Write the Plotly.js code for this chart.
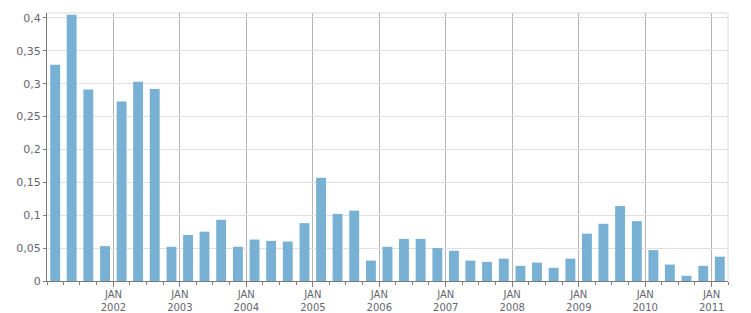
<!DOCTYPE html>
<html>
<head>
<meta charset="utf-8">
<script src="https://cdn.plot.ly/plotly-3.0.1.min.js"></script>
<style>
html,body{margin:0;padding:0;background:#fff;}
#chart{width:751px;height:313px;}
</style>
</head>
<body>
<div id="chart"></div>
<script>
// Quarter start dates (Q1 2001 .. Q1 2011)
const quarters = [
  "2001-01-01","2001-04-01","2001-07-01","2001-10-01",
  "2002-01-01","2002-04-01","2002-07-01","2002-10-01",
  "2003-01-01","2003-04-01","2003-07-01","2003-10-01",
  "2004-01-01","2004-04-01","2004-07-01","2004-10-01",
  "2005-01-01","2005-04-01","2005-07-01","2005-10-01",
  "2006-01-01","2006-04-01","2006-07-01","2006-10-01",
  "2007-01-01","2007-04-01","2007-07-01","2007-10-01",
  "2008-01-01","2008-04-01","2008-07-01","2008-10-01",
  "2009-01-01","2009-04-01","2009-07-01","2009-10-01",
  "2010-01-01","2010-04-01","2010-07-01","2010-10-01",
  "2011-01-01"
];
const values = [
  0.329, 0.405, 0.291, 0.053,
  0.273, 0.303, 0.292, 0.052,
  0.070, 0.075, 0.093, 0.052,
  0.063, 0.061, 0.060, 0.088,
  0.157, 0.102, 0.107, 0.031,
  0.052, 0.064, 0.064, 0.050,
  0.046, 0.031, 0.029, 0.034,
  0.023, 0.028, 0.020, 0.034,
  0.072, 0.087, 0.114, 0.091,
  0.047, 0.025, 0.008, 0.023,
  0.037
];
const tickDates = ["2002-01-01","2003-01-01","2004-01-01","2005-01-01","2006-01-01",
                   "2007-01-01","2008-01-01","2009-01-01","2010-01-01","2011-01-01"];
const tickLabels = ["JAN<br>2002","JAN<br>2003","JAN<br>2004","JAN<br>2005","JAN<br>2006",
                    "JAN<br>2007","JAN<br>2008","JAN<br>2009","JAN<br>2010","JAN<br>2011"];
const yTicks = [0,0.05,0.1,0.15,0.2,0.25,0.3,0.35,0.4];

const trace = {
  type: "bar",
  x: quarters,
  y: values,
  xperiod: "M3",
  xperiodalignment: "middle",
  marker: {color: "#78b1d3", line: {width: 0}},
  hoverinfo: "x+y"
};

const layout = {
  width: 751, height: 313,
  margin: {l: 47, r: 23, t: 13, b: 32, pad: 0},
  paper_bgcolor: "#ffffff",
  plot_bgcolor: "#ffffff",
  separators: ", ",
  bargap: 0.4,
  showlegend: false,
  font: {family: "DejaVu Sans, Verdana, sans-serif", size: 11, color: "#666670"},
  xaxis: {
    type: "date",
    range: ["2001-01-01", "2011-04-01"],
    tickmode: "array",
    tickvals: tickDates,
    ticktext: tickLabels,
    ticks: "outside",
    ticklen: 5,
    tickcolor: "#808080",
    tickwidth: 1,
    showgrid: true,
    gridcolor: "#b4b4b4",
    gridwidth: 1,
    showline: true,
    linecolor: "#7a7a7a",
    linewidth: 1,
    zeroline: false,
    tickfont: {size: 10, color: "#666670"},
    ticklabelstandoff: -1,
    minor: {
      tickmode: "linear",
      tick0: "2001-01-01",
      dtick: "M3",
      ticks: "outside",
      ticklen: 3,
      tickcolor: "#808080",
      showgrid: false
    },
    fixedrange: true
  },
  yaxis: {
    range: [0, 0.4075],
    tickmode: "array",
    tickvals: yTicks,
    ticks: "outside",
    ticklen: 3,
    tickcolor: "#808080",
    showgrid: true,
    gridcolor: "#e0e0e0",
    gridwidth: 1,
    showline: true,
    linecolor: "#7a7a7a",
    linewidth: 1,
    zeroline: false,
    tickfont: {size: 11, color: "#666670"},
    fixedrange: true
  },
  shapes: [
    {type: "line", xref: "paper", yref: "paper", x0: 0, x1: 1, y0: 1, y1: 1,
     line: {color: "#dcdcdc", width: 1}, layer: "below"},
    {type: "line", xref: "paper", yref: "paper", x0: 1, x1: 1, y0: 0, y1: 1,
     line: {color: "#dcdcdc", width: 1}, layer: "below"}
  ]
};

Plotly.newPlot("chart", [trace], layout, {displayModeBar: false, staticPlot: true});
</script>
</body>
</html>
